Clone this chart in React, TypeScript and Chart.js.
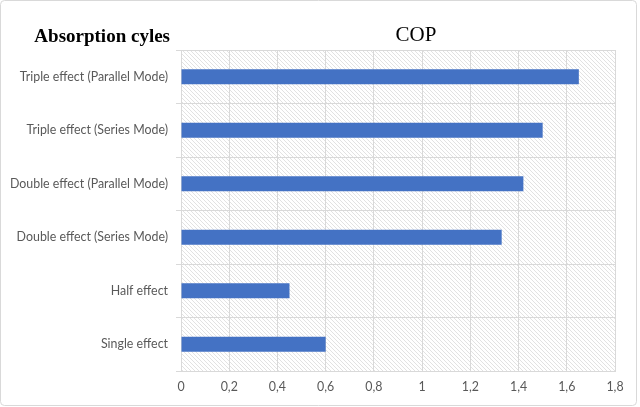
import React, { useEffect, useRef } from "react";
import Chart from "chart.js/auto";

const cycles = [
  "Triple effect (Parallel Mode)",
  "Triple effect (Series Mode)",
  "Double effect (Parallel Mode)",
  "Double effect (Series Mode)",
  "Half effect",
  "Single effect",
];
const copValues = [1.65, 1.5, 1.42, 1.33, 0.45, 0.6];

const chartTitle = "COP";
const axisCaption = "Absorption cyles";

const GRID = "#d9d9d9";

// hatched plot background + outer frame + the two captions
const decorPlugin = {
  id: "decor",
  beforeDraw(chart) {
    const { ctx, chartArea, width, height } = chart;
    ctx.save();
    ctx.fillStyle = "#fff";
    ctx.fillRect(0, 0, width, height);

    const tile = document.createElement("canvas");
    tile.width = 4;
    tile.height = 4;
    const t = tile.getContext("2d");
    t.strokeStyle = "#e2e2e2";
    t.lineWidth = 1;
    t.beginPath();
    t.moveTo(-1, -1);
    t.lineTo(5, 5);
    t.stroke();
    ctx.fillStyle = ctx.createPattern(tile, "repeat");
    ctx.fillRect(
      chartArea.left,
      chartArea.top,
      chartArea.right - chartArea.left,
      chartArea.bottom - chartArea.top
    );

    ctx.strokeStyle = GRID;
    ctx.lineWidth = 1;
    ctx.beginPath();
    ctx.roundRect(0.5, 0.5, 636, 405, 4);
    ctx.stroke();
    ctx.restore();
  },
  afterDraw(chart) {
    const { ctx } = chart;
    ctx.save();
    ctx.fillStyle = "#000";
    ctx.textBaseline = "alphabetic";
    ctx.font = "bold 19px 'Liberation Serif'";
    ctx.textAlign = "right";
    ctx.fillText(axisCaption, 170, 42);
    ctx.font = "21px 'Liberation Serif'";
    ctx.textAlign = "center";
    ctx.fillText(chartTitle, 416, 41);
    ctx.restore();
  },
};

const App = () => {
  const canvasRef = useRef(null);
  const chartInstance = useRef(null);

  useEffect(() => {
    document.body.style.margin = "0";
    const ctx = canvasRef.current.getContext("2d");
    if (chartInstance.current) chartInstance.current.destroy();

    chartInstance.current = new Chart(ctx, {
      type: "bar",
      data: {
        labels: cycles,
        datasets: [
          {
            label: chartTitle,
            data: copValues,
            backgroundColor: "#4472c4",
            borderWidth: 0,
            categoryPercentage: 1,
            barPercentage: 0.28,
          },
        ],
      },
      plugins: [decorPlugin],
      options: {
        indexAxis: "y",
        animation: false,
        responsive: false,
        devicePixelRatio: 1,
        layout: { padding: { top: 50, right: 25, left: 0, bottom: 0 } },
        plugins: {
          legend: { display: false },
          title: { display: false },
          tooltip: { enabled: false },
        },
        scales: {
          x: {
            min: 0,
            max: 1.8,
            ticks: {
              stepSize: 0.2,
              color: "#595959",
              font: { family: "Lato", size: 12.4 },
              padding: 9,
              callback: (v) => String(Math.round(v * 10) / 10).replace(".", ","),
            },
            grid: { color: GRID, drawTicks: false },
            border: { color: GRID },
            afterFit: (scale) => {
              scale.height = 36;
            },
          },
          y: {
            ticks: {
              color: "#595959",
              font: { family: "Lato", size: 12.4 },
              padding: 8,
            },
            grid: { color: GRID, offset: true, tickLength: 5 },
            border: { color: GRID },
            afterFit: (scale) => {
              scale.width = 181;
            },
          },
        },
      },
    });

    return () => {
      if (chartInstance.current) {
        chartInstance.current.destroy();
        chartInstance.current = null;
      }
    };
  }, []);

  return (
    <div style={{ width: 640, height: 407 }}>
      <canvas ref={canvasRef} width={640} height={407}></canvas>
    </div>
  );
};

export default App;
